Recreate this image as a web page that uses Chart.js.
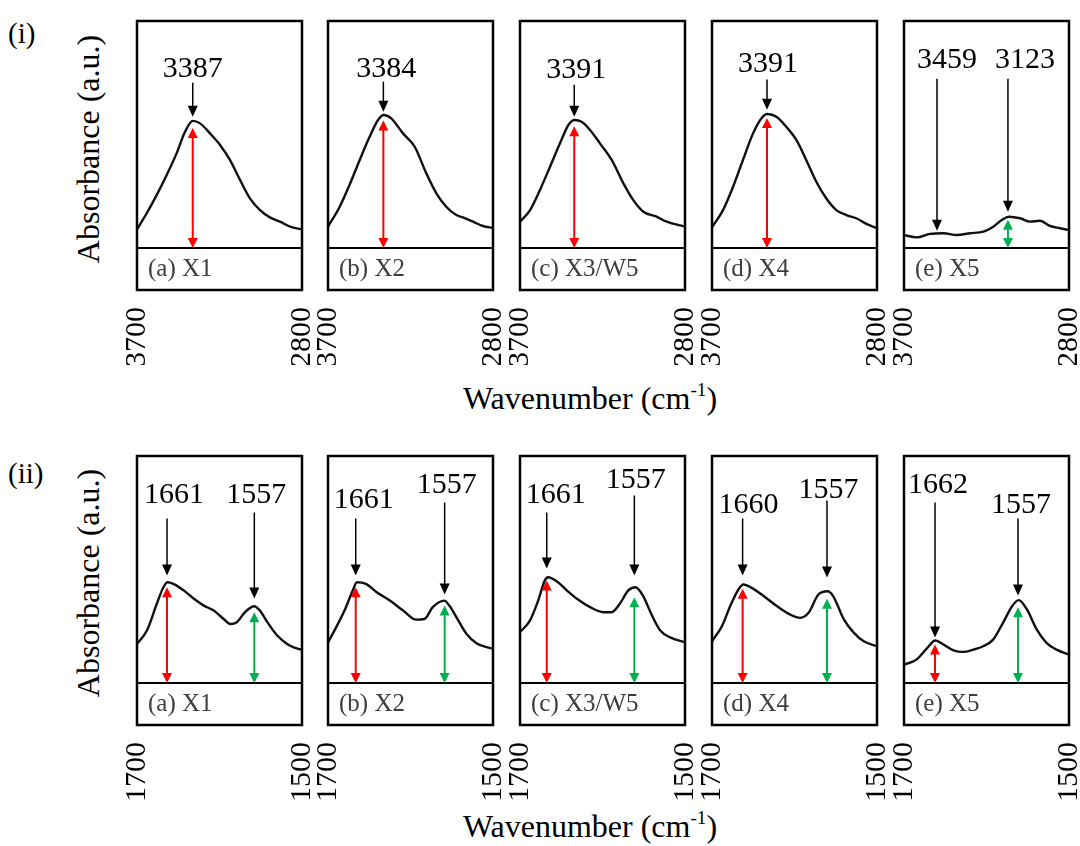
<!DOCTYPE html>
<html>
<head>
<meta charset="utf-8">
<script src="https://cdn.jsdelivr.net/npm/chart.js@4.4.1/dist/chart.umd.min.js"></script>
<style>
  body { margin: 0; background: #fff; font-family: 'Liberation Serif', 'Times New Roman', 'DejaVu Serif', serif; }
  #page { position: relative; width: 1080px; height: 846px; overflow: hidden; color: #000; }
  .panel { position: absolute; }
  .txt { position: absolute; white-space: nowrap; line-height: 1; font-family: 'Liberation Serif', 'Times New Roman', 'DejaVu Serif', serif; }
  .vert { transform: translate(-50%, -50%) rotate(-90deg); }
  .horiz { transform: translate(-50%, -50%); }
  sup { font-size: 60%; vertical-align: 0.7em; line-height: 0; }
</style>
</head>
<body>
<div id="page">
  <div class="txt" style="left:8px;top:19px;font-size:29px">(i)</div>
  <div class="txt" style="left:8px;top:459px;font-size:29px">(ii)</div>
  <div class="txt vert" style="left:88px;top:149px;font-size:32px">Absorbance (a.u.)</div>
  <div class="txt vert" style="left:88px;top:583px;font-size:32px">Absorbance (a.u.)</div>
  <div class="txt horiz" style="left:590px;top:398px;font-size:32px">Wavenumber (cm<sup>-1</sup>)</div>
  <div class="txt horiz" style="left:590px;top:826px;font-size:32px">Wavenumber (cm<sup>-1</sup>)</div>
</div>
<script>
// ---- data ----
const panelNames = ['(a) X1', '(b) X2', '(c) X3/W5', '(d) X4', '(e) X5'];
const ohTicks = [3700, 2800];
const amideTicks = [1700, 1500];

// (i) 3700-2800 cm-1 region
const ohWnX1 = [3700, 3647, 3593, 3538, 3484, 3438, 3396, 3356, 3302, 3247, 3193, 3138, 3084, 3029, 2975, 2920, 2865, 2800];
const ohAbsX1 = [8.2, 15.3, 23.3, 32.2, 41.7, 51.2, 56, 54.9, 50.5, 45.4, 38.8, 30, 21.9, 16.7, 13.5, 11.6, 9.4, 8.2];
const ohWnX2 = [3700, 3636, 3582, 3527, 3473, 3427, 3396, 3355, 3291, 3227, 3164, 3109, 3055, 3000, 2964, 2909, 2855, 2800];
const ohAbsX2 = [9.4, 18.2, 27.9, 38.8, 49, 56.4, 58.6, 57.1, 50.5, 44.6, 32.9, 24.1, 18.2, 14.5, 13.5, 11.6, 9.7, 8.8];
const ohWnX3 = [3700, 3645, 3591, 3536, 3482, 3436, 3402, 3364, 3318, 3264, 3200, 3136, 3082, 3027, 2955, 2900, 2800];
const ohAbsX3 = [11.6, 16.7, 25.6, 35.8, 46.1, 54.2, 56.4, 55.6, 52, 46.1, 38.8, 28.5, 21.1, 16, 13.8, 11.6, 9.4];
const ohWnX4 = [3700, 3640, 3585, 3531, 3476, 3431, 3398, 3349, 3295, 3240, 3186, 3131, 3077, 3022, 2967, 2913, 2858, 2800];
const ohAbsX4 = [9.1, 16.7, 27, 38.8, 50.5, 57.1, 59, 57.8, 53.4, 47.6, 38.8, 29.2, 21.9, 16.7, 14.5, 13.1, 10.6, 8.7];
const ohWnX5 = [3700, 3631, 3558, 3485, 3413, 3340, 3267, 3213, 3167, 3128, 3067, 3013, 2958, 2904, 2849, 2800];
const ohAbsX5 = [5.7, 4.7, 6.2, 6.5, 5.7, 6.5, 7.2, 9.4, 12.3, 13.8, 13.1, 11.6, 12, 9.7, 8.7, 7.9];

// (ii) 1700-1500 cm-1 region
const amWnX1 = [1700, 1688, 1676, 1668, 1663, 1656, 1643, 1631, 1619, 1607, 1595, 1587, 1579, 1569, 1558, 1551, 1542, 1530, 1518, 1510, 1500];
const amAbsX1 = [17.2, 23.1, 34.9, 42.2, 44.4, 43.7, 40.7, 37.1, 34.1, 31.9, 28.2, 26, 26.8, 31.2, 33.8, 31.9, 26.8, 20.9, 17.2, 15.7, 14.6];
const amWnX2 = [1700, 1690, 1680, 1670, 1665, 1654, 1641, 1625, 1609, 1593, 1583, 1573, 1559, 1553, 1542, 1532, 1520, 1500];
const amAbsX2 = [17.9, 24.6, 31.9, 40.7, 44.4, 43.7, 40, 36.3, 31.9, 27.9, 28.2, 33.4, 36.3, 34.1, 27.5, 21.6, 17.5, 15];
const amWnX3 = [1700, 1688, 1678, 1670, 1666, 1654, 1643, 1631, 1615, 1599, 1589, 1579, 1569, 1560, 1551, 1540, 1530, 1518, 1500];
const amAbsX3 = [22.4, 27.5, 36.3, 45.1, 46.6, 44.4, 40.7, 37.1, 33.4, 31.2, 31.2, 34.9, 40.7, 42.2, 38.5, 29.7, 23.1, 20.1, 17.9];
const amWnX4 = [1700, 1688, 1678, 1668, 1662, 1652, 1637, 1621, 1605, 1593, 1583, 1571, 1560, 1553, 1540, 1528, 1516, 1500];
const amAbsX4 = [18.4, 25, 33.8, 41.2, 43.4, 41.9, 38.2, 33.8, 30.1, 28.7, 30.9, 39, 40.4, 38.2, 27.9, 22.1, 18.4, 16.2];
const amWnX5 = [1700, 1685, 1672, 1662, 1652, 1640, 1628, 1616, 1604, 1592, 1580, 1569, 1561, 1551, 1539, 1527, 1515, 1500];
const amAbsX5 = [8.1, 10.3, 15.4, 18.7, 16.9, 14.4, 13.7, 14.7, 16.2, 19.1, 26.5, 33.8, 36.5, 32.4, 23.5, 17.6, 14.7, 12.5];

// marked peaks: label, position, arrow tip height, height of the band arrow
const ohPeakText = [['3387'], ['3384'], ['3391'], ['3391'], ['3459', '3123']];
const ohPeakWn = [[3396], [3398], [3404], [3400], [3520, 3133]];
const ohPeakTip = [[57.8], [60], [57.8], [60.9], [7.6, 16]];
const ohBandTop = [[52.9], [56.2], [53.6], [57.3], [null, 12.5]];

const amPeakText = [['1661', '1557'], ['1661', '1557'], ['1661', '1557'], ['1660', '1557'], ['1662', '1557']];
const amPeakWn = [[1663.6, 1557.8], [1666.4, 1558.6], [1667.6, 1561.4], [1662.9, 1560.6], [1662.4, 1561.8]];
const amPeakTip = [[47.4, 37.2], [47.4, 39], [50.4, 47.4], [47.4, 46.5], [20, 38.5]];
const amBandTop = [[42.2, 31.2], [42.2, 34.1], [45.2, 37.8], [41.5, 37.1], [17, 33.4]];

// ---- layout / style ----
const RED = '#ff0000';
const GREEN = '#00b050';
const panelLefts = [137, 328, 520, 712, 904];
const rowTops = [21, 456];
const PANEL_W = 165, PANEL_H = 269, PAD = 25, AXIS_H = 75;
const FONT = "'Liberation Serif', 'Times New Roman', 'DejaVu Serif', serif";
Chart.defaults.font.family = FONT;

// [label baseline, arrow start, label x shift in px]
const ohLabelPos = [[[75.4, 72.8, 0]], [[75.5, 73.3, 3]], [[75, 71.9, 2]], [[77.7, 74.2, 1]], [[79.4, 74.6, 10], [79.4, 74.6, 17]]];
const amLabelPos = [[[79.5, 72.5, 7], [79.5, 75.1, 2]], [[76.9, 72.5, 8], [83.9, 79.5, 2]], [[79.1, 75.1, 9], [86.1, 82.6, 1.5]],
                    [[75.1, 72.5, 6], [81.7, 80.4, 1.6]], [[83.5, 79.5, 3], [74.7, 72.5, 3]]];
const ohBandColors = [[RED], [RED], [RED], [RED], [null, GREEN]];
const amBandColors = [[RED, GREEN], [RED, GREEN], [RED, GREEN], [RED, GREEN], [RED, GREEN]];

function arrowHead(ctx, x, y, dir, len, half) {
  // dir = 1 points down, -1 points up
  ctx.beginPath();
  ctx.moveTo(x, y);
  ctx.lineTo(x - half, y - dir * len);
  ctx.lineTo(x + half, y - dir * len);
  ctx.closePath();
  ctx.fill();
}

const panelDecor = {
  id: 'panelDecor',
  afterDatasetsDraw(chart, args, o) {
    const { ctx, chartArea: a, scales: { x, y } } = chart;
    ctx.save();
    // frame and the separator above the name strip
    ctx.strokeStyle = '#000';
    ctx.lineWidth = 2.5;
    ctx.strokeRect(a.left, a.top, a.right - a.left, a.bottom - a.top);
    const base = y.getPixelForValue(0);
    ctx.lineWidth = 2;
    ctx.beginPath();
    ctx.moveTo(a.left, base);
    ctx.lineTo(a.right, base);
    ctx.stroke();

    ctx.fillStyle = '#3d3d3d';
    ctx.font = '25px ' + FONT;
    ctx.textAlign = 'left';
    ctx.textBaseline = 'alphabetic';
    ctx.fillText(o.name, a.left + 11, a.bottom - 14);

    o.peaks.forEach(p => {
      const px = x.getPixelForValue(p.wn);
      const tip = y.getPixelForValue(p.tip);
      const start = y.getPixelForValue(p.pos[1]);
      // black pointer arrow
      ctx.strokeStyle = '#000';
      ctx.fillStyle = '#000';
      ctx.lineWidth = 1.5;
      ctx.beginPath();
      ctx.moveTo(px, start);
      ctx.lineTo(px, tip - 10);
      ctx.stroke();
      arrowHead(ctx, px, tip, 1, 11, 5);
      // peak label
      ctx.font = '30px ' + FONT;
      ctx.textAlign = 'center';
      ctx.fillText(p.text, px + p.pos[2], y.getPixelForValue(p.pos[0]));
      // band height arrow
      if (p.band != null) {
        const top = y.getPixelForValue(p.band);
        ctx.strokeStyle = p.color;
        ctx.fillStyle = p.color;
        ctx.lineWidth = 2;
        ctx.beginPath();
        ctx.moveTo(px, top + 9);
        ctx.lineTo(px, base - 9);
        ctx.stroke();
        arrowHead(ctx, px, top, -1, 10, 5);
        arrowHead(ctx, px, base, 1, 10, 5);
      }
    });
    ctx.restore();
  }
};

function makePanel(row, idx, wn, abs, ticks, texts, wns, tips, bands, pos, colors) {
  const holder = document.createElement('div');
  holder.className = 'panel';
  holder.style.left = (panelLefts[idx] - PAD) + 'px';
  holder.style.top = (rowTops[row] - 2) + 'px';
  const canvas = document.createElement('canvas');
  canvas.width = PANEL_W + 2 * PAD;
  canvas.height = PANEL_H + 2 + AXIS_H;
  holder.appendChild(canvas);
  document.getElementById('page').appendChild(holder);

  const peaks = texts.map((t, i) => ({
    text: t, wn: wns[i], tip: tips[i], band: bands[i], pos: pos[i], color: colors[i]
  }));

  return new Chart(canvas, {
    type: 'line',
    data: {
      datasets: [{
        data: wn.map((v, i) => ({ x: v, y: abs[i] })),
        borderColor: '#111',
        borderWidth: 2.4,
        pointRadius: 0,
        cubicInterpolationMode: 'monotone',
        fill: false
      }]
    },
    options: {
      responsive: false,
      animation: false,
      layout: { padding: { left: PAD, right: PAD, top: 2, bottom: 0 } },
      scales: {
        x: {
          type: 'linear',
          min: Math.min(...ticks),
          max: Math.max(...ticks),
          reverse: true,
          grid: { display: false },
          border: { display: false },
          afterBuildTicks: s => { s.ticks = ticks.map(v => ({ value: v })); },
          afterFit: s => { s.height = AXIS_H; s.paddingLeft = 0; s.paddingRight = 0; },
          ticks: {
            minRotation: 90,
            maxRotation: 90,
            padding: 9,
            color: '#000',
            font: { family: FONT, size: 30 },
            callback: v => String(v)
          }
        },
        y: { display: false, min: -18.5, max: 100 }
      },
      plugins: {
        legend: { display: false },
        tooltip: { enabled: false },
        panelDecor: { name: panelNames[idx], peaks: peaks }
      }
    },
    plugins: [panelDecor]
  });
}

const ohWn = [ohWnX1, ohWnX2, ohWnX3, ohWnX4, ohWnX5];
const ohAbs = [ohAbsX1, ohAbsX2, ohAbsX3, ohAbsX4, ohAbsX5];
const amWn = [amWnX1, amWnX2, amWnX3, amWnX4, amWnX5];
const amAbs = [amAbsX1, amAbsX2, amAbsX3, amAbsX4, amAbsX5];

for (let i = 0; i < 5; i++) {
  makePanel(0, i, ohWn[i], ohAbs[i], ohTicks, ohPeakText[i], ohPeakWn[i], ohPeakTip[i], ohBandTop[i], ohLabelPos[i], ohBandColors[i]);
  makePanel(1, i, amWn[i], amAbs[i], amideTicks, amPeakText[i], amPeakWn[i], amPeakTip[i], amBandTop[i], amLabelPos[i], amBandColors[i]);
}
</script>
</body>
</html>
